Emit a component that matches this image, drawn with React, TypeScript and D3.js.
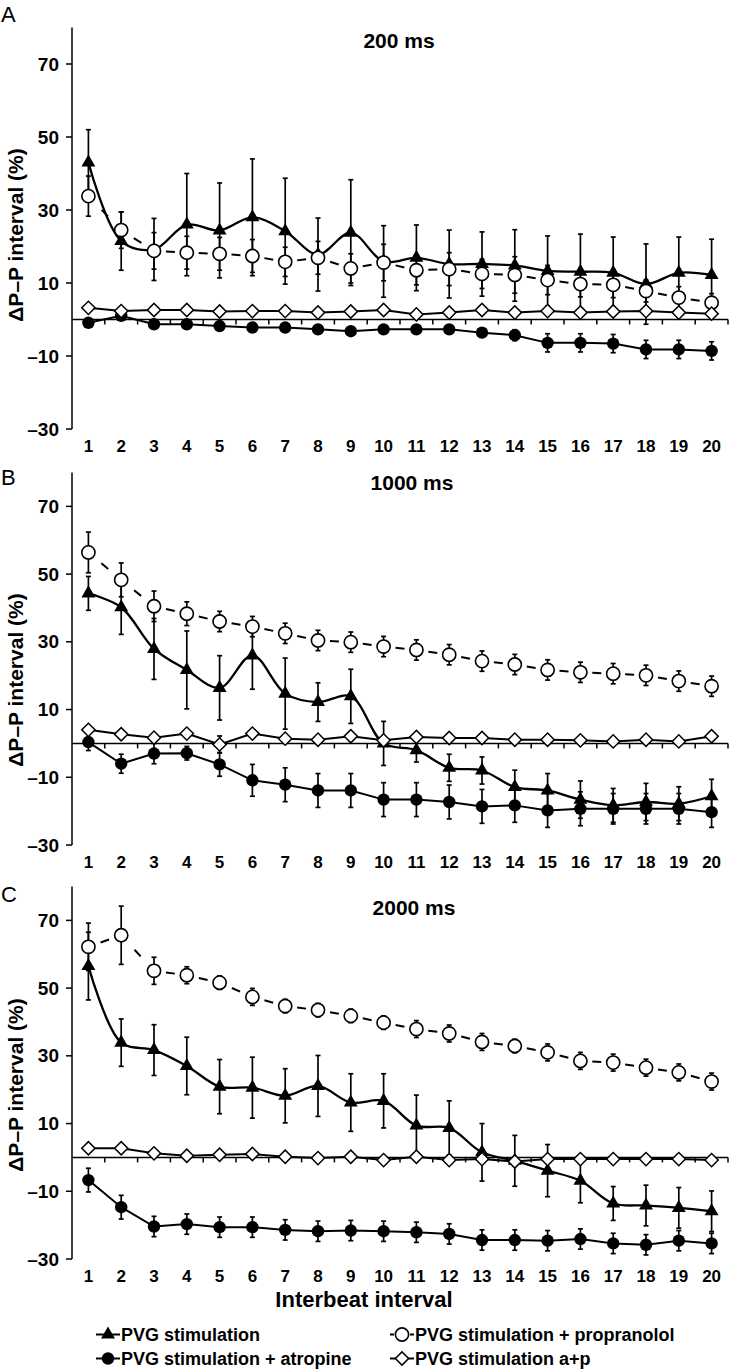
import React, { useEffect, useRef } from 'react';
import * as d3 from 'd3';

const intervals = ['1', '2', '3', '4', '5', '6', '7', '8', '9', '10', '11', '12', '13', '14', '15', '16', '17', '18', '19', '20'];
const yTicks = [-30, -10, 10, 30, 50, 70];

// Panel A: 200 ms
const stim200 = [43, 21.5, 19.2, 26, 24.4, 28, 24.2, 17.8, 23.8, 15.9, 16.9, 15.2, 15.2, 14.8, 13.3, 13.1, 12.8, 9.7, 12.8, 12.2];
const stim200Err = [9, 8, 8.5, 14, 13, 16, 14.5, 10, 14.5, 9.8, 9, 9.3, 8.8, 9.8, 9.6, 10.3, 9.8, 11, 9.8, 9.8];
const prop200 = [33.8, 24.5, 18.8, 18.3, 18, 17.4, 15.8, 16.9, 14, 15.6, 13.5, 13.8, 12.5, 12.2, 10.8, 9.7, 9.5, 7.8, 6, 4.6];
const prop200Err = [5.5, 5, 5, 4.5, 4.5, 4.5, 4, 4.5, 4, 5, 4, 4.5, 4, 5, 4, 3.5, 3.5, 3, 3, 2.5];
const atro200 = [-0.9, 1.0, -1.3, -1.3, -1.8, -2.2, -2.2, -2.7, -3.2, -2.7, -2.7, -2.7, -3.6, -4.3, -6.4, -6.4, -6.6, -8.2, -8.2, -8.6];
const atro200Err = [1, 1, 1, 1, 1, 1, 1, 1, 1, 1, 1, 1, 1, 1.5, 2.5, 2.5, 2.5, 2.5, 2.5, 2.5];
const ap200 = [3.2, 2.3, 2.6, 2.6, 2.2, 2.3, 2.3, 1.9, 2.2, 2.6, 1.4, 1.9, 2.6, 1.9, 2.3, 1.9, 2.2, 2.3, 1.9, 1.6];
const ap200Err = [0.8, 0.8, 0.8, 0.8, 0.8, 0.8, 0.8, 0.8, 0.8, 0.8, 0.8, 0.8, 0.8, 0.8, 0.8, 0.8, 0.8, 0.8, 0.8, 0.8];

// Panel B: 1000 ms
const stim1000 = [44.3, 40.2, 27.9, 21.7, 16.4, 26, 14.7, 12.2, 13.9, 0, -2, -7.2, -8, -12.9, -13.9, -16.6, -18.3, -17.3, -17.8, -15.6];
const stim1000Err = [5, 8, 9, 11.5, 9.5, 10, 10.5, 5.7, 8, 6.5, 3.5, 4, 4, 5, 5, 5.5, 5, 5.5, 5, 5];
const prop1000 = [56.4, 48.3, 40.5, 38.3, 36, 34.5, 32.5, 30.4, 29.9, 28.6, 27.6, 26.2, 24.3, 23.3, 21.7, 21, 20.6, 20.1, 18.4, 16.9];
const prop1000Err = [6, 5, 4.5, 3.5, 3, 3, 3, 3, 3, 3, 3, 3, 3, 3, 3, 3, 3, 3, 3, 3];
const atro1000 = [0.4, -6, -3, -2.9, -6.2, -10.9, -12.2, -13.9, -13.9, -16.6, -16.6, -17.3, -18.6, -18.3, -19.8, -19.3, -19.3, -19.3, -19.3, -20.3];
const atro1000Err = [2.5, 2.8, 3, 2, 3.5, 4.7, 5, 5, 5, 5, 5, 5, 5, 5, 5, 5, 4.5, 4.5, 4.5, 4.5];
const ap1000 = [4.0, 2.7, 1.7, 2.9, -0.3, 2.9, 1.4, 1.1, 2.1, 0.9, 1.9, 1.6, 1.6, 1.1, 1.1, 0.9, 0.6, 1.1, 0.6, 2.1];
const ap1000Err = [1, 1, 1, 1, 2.5, 1, 1, 1, 1, 1, 1, 1, 1, 1, 1, 1, 1, 1, 1, 1];

// Panel C: 2000 ms
const stim2000 = [56.5, 33.9, 31.7, 27, 20.9, 20.6, 18.2, 21.1, 16.2, 16.7, 9.4, 8.7, 1.5, -1, -3.9, -6.9, -13.6, -14.2, -14.9, -15.9];
const stim2000Err = [10, 7, 7.5, 8.5, 8, 9, 8, 9, 8.5, 8, 9, 8, 8.5, 7.5, 7.7, 6.5, 5, 6, 6, 6];
const prop2000 = [62.2, 65.6, 55.1, 53.8, 51.6, 47.4, 44.7, 43.5, 41.8, 39.8, 37.9, 36.6, 34.1, 32.9, 31, 28.5, 28, 26.5, 25.1, 22.4];
const prop2000Err = [7, 8.6, 4, 2.5, 2, 2.5, 2, 2, 2, 2, 2.5, 2.5, 2.5, 2, 2.5, 2.5, 2.5, 2.5, 2.5, 2.5];
const atro2000 = [-6.7, -14.7, -20.4, -19.7, -20.6, -20.6, -21.4, -21.8, -21.6, -21.8, -22.1, -22.6, -24.4, -24.4, -24.6, -24.1, -25.4, -25.8, -24.6, -25.4];
const atro2000Err = [3.5, 3.5, 3, 3, 3, 3, 3, 3, 3, 3, 3, 3, 3, 3, 3, 3, 3, 3, 3, 3];
const ap2000 = [2.7, 2.7, 1.2, 0.5, 0.8, 1.0, 0.2, -0.2, 0.2, -0.8, 0.2, -0.8, -0.5, -1.2, -0.5, -0.5, -0.5, -0.5, -0.5, -0.8];
const ap2000Err = [1, 1, 1, 1, 1, 1, 1, 1, 1, 1, 1, 1, 1, 1, 1, 1, 1, 1, 1, 1];

const legendLabels = ['PVG stimulation', 'PVG stimulation + propranolol', 'PVG stimulation + atropine', 'PVG stimulation a+p'];

const FONT = '"Liberation Sans", Arial, Helvetica, sans-serif';

export default function App() {
  const ref = useRef<SVGSVGElement>(null);

  useEffect(() => {
    if (!ref.current) return;
    const svg = d3.select(ref.current);
    svg.selectAll('*').remove();

    const panels = [
      { letter: 'A', title: '200 ms', top: 27.5, bottom: 429, titleX: 399, titleY: 48, letterY: 22, labelY: 235,
        data: [[stim200, stim200Err], [atro200, atro200Err], [prop200, prop200Err], [ap200, ap200Err]] },
      { letter: 'B', title: '1000 ms', top: 472.5, bottom: 845, titleX: 412, titleY: 490, letterY: 485, labelY: 680,
        data: [[stim1000, stim1000Err], [atro1000, atro1000Err], [prop1000, prop1000Err], [ap1000, ap1000Err]] },
      { letter: 'C', title: '2000 ms', top: 886.5, bottom: 1259, titleX: 414, titleY: 915, letterY: 902, labelY: 1085,
        data: [[stim2000, stim2000Err], [atro2000, atro2000Err], [prop2000, prop2000Err], [ap2000, ap2000Err]] },
    ];
    // series styles, in drawing order: stim, atropine, propranolol, a+p
    const kinds = ['tri', 'dot', 'ring', 'dia'];

    const x = d3.scalePoint<string>().domain(intervals).range([72, 728]).padding(0.5);
    const step = x.step();

    const drawMarker = (g: any, kind: string, cx: number, cy: number) => {
      if (kind === 'tri') {
        g.append('path').attr('d', d3.symbol(d3.symbolTriangle, 84)())
          .attr('transform', `translate(${cx},${cy})`).attr('fill', '#000');
      } else if (kind === 'dot') {
        g.append('circle').attr('cx', cx).attr('cy', cy).attr('r', 6.2).attr('fill', '#000');
      } else if (kind === 'ring') {
        g.append('circle').attr('cx', cx).attr('cy', cy).attr('r', 6.6)
          .attr('fill', '#fff').attr('stroke', '#000').attr('stroke-width', 1.6);
      } else {
        g.append('path').attr('d', d3.symbol(d3.symbolSquare, 88)())
          .attr('transform', `translate(${cx},${cy}) rotate(45)`)
          .attr('fill', '#fff').attr('stroke', '#000').attr('stroke-width', 1.5);
      }
    };

    panels.forEach(p => {
      const y = d3.scaleLinear().domain([-30, 80]).range([p.bottom, p.top]);
      const g = svg.append('g');

      // y axis
      g.append('line').attr('x1', 72).attr('x2', 72).attr('y1', y(80)).attr('y2', y(-30))
        .attr('stroke', '#000').attr('stroke-width', 1.5);
      yTicks.forEach(t => {
        g.append('line').attr('x1', 66).attr('x2', 72).attr('y1', y(t)).attr('y2', y(t))
          .attr('stroke', '#000').attr('stroke-width', 1.5);
        g.append('text').attr('x', 59).attr('y', y(t)).attr('dy', '0.35em')
          .attr('text-anchor', 'end').attr('font-family', FONT).attr('font-weight', 'bold')
          .attr('font-size', 19).text(t < 0 ? `\u2013${Math.abs(t)}` : `${t}`);
      });

      // zero line with ticks between categories
      g.append('line').attr('x1', 72).attr('x2', 728).attr('y1', y(0)).attr('y2', y(0))
        .attr('stroke', '#000').attr('stroke-width', 1.5);
      intervals.forEach(c => {
        const bx = (x(c) as number) + step / 2;
        g.append('line').attr('x1', bx).attr('x2', bx).attr('y1', y(0)).attr('y2', y(0) + 5)
          .attr('stroke', '#000').attr('stroke-width', 1.5);
        g.append('text').attr('x', x(c) as number).attr('y', p.bottom + 23)
          .attr('text-anchor', 'middle').attr('font-family', FONT).attr('font-weight', 'bold')
          .attr('font-size', 17).text(c);
      });

      // letter, title, y label
      g.append('text').attr('x', 1).attr('y', p.letterY).attr('font-family', FONT)
        .attr('font-size', 22).text(p.letter);
      g.append('text').attr('x', p.titleX).attr('y', p.titleY).attr('text-anchor', 'middle')
        .attr('font-family', FONT).attr('font-weight', 'bold').attr('font-size', 21).text(p.title);
      g.append('text').attr('transform', `translate(23,${p.labelY}) rotate(-90)`)
        .attr('text-anchor', 'middle').attr('font-family', FONT).attr('font-weight', 'bold')
        .attr('font-size', 21).text('\u0394P\u2013P interval (%)');

      // series
      p.data.forEach(([vals, errs], si) => {
        const kind = kinds[si];
        const pts = vals.map((v, i) => [x(intervals[i]) as number, y(v)] as [number, number]);
        const sg = g.append('g');

        if (kind === 'ring') {
          // dashed: one dash in the middle of each segment
          for (let i = 0; i < pts.length - 1; i++) {
            const [x1, y1] = pts[i];
            const [x2, y2] = pts[i + 1];
            const L = Math.hypot(x2 - x1, y2 - y1);
            const d = 9;
            sg.append('line').attr('x1', x1).attr('y1', y1).attr('x2', x2).attr('y2', y2)
              .attr('stroke', '#000').attr('stroke-width', 2)
              .attr('stroke-dasharray', `0 ${(L - d) / 2} ${d} ${L}`);
          }
        } else {
          const line = d3.line()
            .curve(kind === 'tri' ? d3.curveCatmullRom.alpha(0.5) : d3.curveLinear);
          sg.append('path').attr('d', line(pts)).attr('fill', 'none').attr('stroke', '#000')
            .attr('stroke-width', kind === 'tri' ? 2.3 : 2);
        }

        // error bars
        vals.forEach((v, i) => {
          const cx = pts[i][0];
          const e = errs[i];
          const yt = y(v + e), yb = y(v - e);
          sg.append('line').attr('x1', cx).attr('x2', cx).attr('y1', yt).attr('y2', yb)
            .attr('stroke', '#000').attr('stroke-width', 1.7);
          [yt, yb].forEach(yy => {
            sg.append('line').attr('x1', cx - 2.5).attr('x2', cx + 2.5).attr('y1', yy).attr('y2', yy)
              .attr('stroke', '#000').attr('stroke-width', 1.7);
          });
        });

        pts.forEach(([cx, cy]) => drawMarker(sg, kind, cx, cy));
      });
    });

    // x axis title
    svg.append('text').attr('x', 364).attr('y', 1307).attr('text-anchor', 'middle')
      .attr('font-family', FONT).attr('font-weight', 'bold').attr('font-size', 22)
      .text('Interbeat interval');

    // legend
    const legendKinds = ['tri', 'ring', 'dot', 'dia'];
    legendKinds.forEach((kind, i) => {
      const col = i % 2, row = Math.floor(i / 2);
      const cx = col === 0 ? 108 : 402;
      const base = row === 0 ? 1341 : 1365;
      const cy = base - 6.5;
      const lg = svg.append('g');
      lg.append('line').attr('x1', cx - 12).attr('x2', cx + 12).attr('y1', cy).attr('y2', cy)
        .attr('stroke', '#000').attr('stroke-width', 2)
        .attr('stroke-dasharray', kind === 'ring' ? '4 16 4' : null);
      drawMarker(lg, kind, cx, cy);
      lg.append('text').attr('x', cx + 13).attr('y', base).attr('font-family', FONT)
        .attr('font-weight', 'bold').attr('font-size', 18).text(legendLabels[i]);
    });
  }, []);

  return (
    <div style={{ position: 'absolute', left: 0, top: 0, background: '#fff' }}>
      <svg ref={ref} width={733} height={1372} style={{ display: 'block' }} />
    </div>
  );
}
